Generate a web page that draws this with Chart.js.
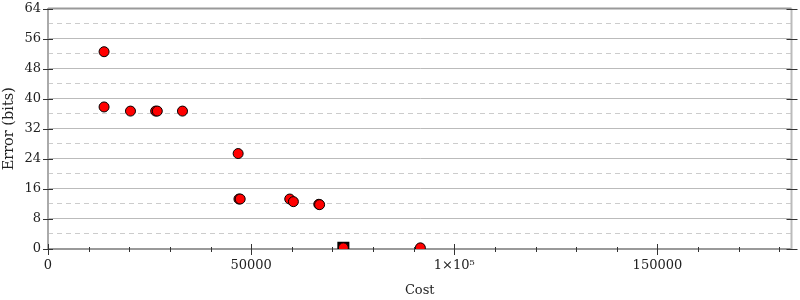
<!DOCTYPE html>
<html>
<head>
<meta charset="utf-8">
<script src="https://cdn.jsdelivr.net/npm/chart.js@4/dist/chart.umd.min.js"></script>
<style>
  html, body { margin: 0; padding: 0; background: #fff; }
</style>
</head>
<body>
<canvas id="chart" width="800" height="300"></canvas>
<script>
'use strict';

/* global Chart */

// measured points (cost, error in bits)
const costs  = [13800, 13800, 20300, 26500, 26900, 33100, 46800, 47000, 47300, 59500, 60400, 66650, 66850, 72700, 91650];
const errors = [52.5, 37.8, 36.7, 36.7, 36.7, 36.7, 25.4, 13.3, 13.3, 13.3, 12.6, 11.9, 11.8, 0.3, 0.3];

// highlighted point (black square)
const bestCost  = [72700];
const bestError = [0.3];

// axes
const xMax = 183000;
const xMinorStep = 10000;
const xTickValues = [0, 50000, 100000, 150000];
const xTickLabels = ['0', '50000', '1×10⁵', '150000'];
const yMax = 64;
const yMajorStep = 8;

const FONT = { family: "'DejaVu Serif', serif", size: 13 };

function toPoints(xs, ys) {
  return xs.map((x, i) => ({ x: x, y: ys[i] }));
}

// frame on top/right and small tick marks crossing the axes
const axisFrame = {
  id: 'axisFrame',
  afterDraw(chart) {
    const { ctx, chartArea: a } = chart;
    const xs = chart.scales.x, ys = chart.scales.y;
    ctx.save();
    ctx.lineWidth = 2;
    ctx.strokeStyle = '#999';
    ctx.beginPath();
    ctx.moveTo(a.left, a.top);
    ctx.lineTo(a.right, a.top);
    ctx.stroke();
    ctx.strokeStyle = '#bbb';
    ctx.beginPath();
    ctx.moveTo(a.right, a.top);
    ctx.lineTo(a.right, a.bottom);
    ctx.stroke();

    ctx.lineWidth = 1;
    ctx.strokeStyle = '#333';
    ctx.beginPath();
    xs.ticks.forEach(t => {
      const px = Math.round(xs.getPixelForValue(t.value)) + 0.5;
      const major = xTickValues.includes(t.value);
      ctx.moveTo(px, a.bottom - (major ? 5 : 2));
      ctx.lineTo(px, a.bottom + (major ? 6 : 3));
    });
    ys.ticks.forEach(t => {
      const py = Math.round(ys.getPixelForValue(t.value)) + 0.5;
      const major = t.value % yMajorStep === 0;
      ctx.moveTo(a.left - (major ? 5 : 3), py);
      ctx.lineTo(a.left + (major ? 5 : 2), py);
      ctx.moveTo(a.right - (major ? 5 : 2), py);
      ctx.lineTo(a.right + (major ? 6 : 3), py);
    });
    ctx.stroke();
    ctx.restore();
  }
};

const canvas = document.getElementById('chart');
new Chart(canvas, {
  type: 'scatter',
  data: {
    datasets: [{
      data: toPoints(costs, errors),
      backgroundColor: '#ff0000',
      borderColor: '#000',
      borderWidth: 1,
      pointRadius: 5,
      clip: 0
    }, {
      data: toPoints(bestCost, bestError),
      pointStyle: 'rect',
      backgroundColor: '#000',
      borderColor: '#000',
      borderWidth: 0,
      pointRadius: 8.5,
      clip: 0
    }]
  },
  options: {
    responsive: false,
    animation: false,
    layout: { padding: { top: 8, right: 7, bottom: 0, left: 0 } },
    plugins: { legend: { display: false }, tooltip: { enabled: false } },
    scales: {
      x: {
        type: 'linear',
        min: 0,
        max: xMax,
        afterBuildTicks: s => {
          const t = [];
          for (let v = 0; v <= xMax; v += xMinorStep) t.push({ value: v });
          s.ticks = t;
        },
        afterFit: s => { s.height = 51; s.paddingLeft = 0; s.paddingRight = 0; },
        ticks: {
          autoSkip: false,
          maxRotation: 0,
          padding: 9,
          color: '#222',
          font: FONT,
          callback: v => {
            const i = xTickValues.indexOf(v);
            return i >= 0 ? xTickLabels[i] : '';
          }
        },
        grid: { display: false, drawTicks: false },
        border: { color: '#999', width: 2 },
        title: {
          display: true,
          text: 'Cost',
          color: '#222',
          font: { family: FONT.family, size: 13 },
          padding: { top: 0, bottom: 2 }
        }
      },
      y: {
        min: 0,
        max: yMax,
        afterFit: s => { s.width = 48; s.paddingTop = 0; s.paddingBottom = 0; },
        ticks: {
          stepSize: yMajorStep / 2,
          padding: 7,
          color: '#222',
          font: FONT,
          callback: v => (v % yMajorStep === 0 ? String(v) : '')
        },
        grid: {
          drawTicks: false,
          color: c => (c.tick && c.tick.value % yMajorStep === 0 ? '#bbb' : 'rgba(0,0,0,0)')
        },
        border: { color: '#aaa', width: 2 },
        title: {
          display: true,
          text: 'Error (bits)',
          color: '#222',
          font: { family: FONT.family, size: 14.5 },
          padding: { top: 1, bottom: 0 }
        }
      },
      y2: {
        position: 'right',
        min: 0,
        max: yMax,
        afterBuildTicks: s => {
          const t = [];
          for (let v = yMajorStep / 2; v < yMax; v += yMajorStep) t.push({ value: v });
          s.ticks = t;
        },
        afterFit: s => { s.width = 0; s.paddingTop = 0; s.paddingBottom = 0; },
        ticks: { display: false },
        grid: { drawTicks: false, color: '#ccc' },
        border: { display: false, dash: [5, 4] }
      }
    }
  },
  plugins: [axisFrame]
});
</script>
</body>
</html>
